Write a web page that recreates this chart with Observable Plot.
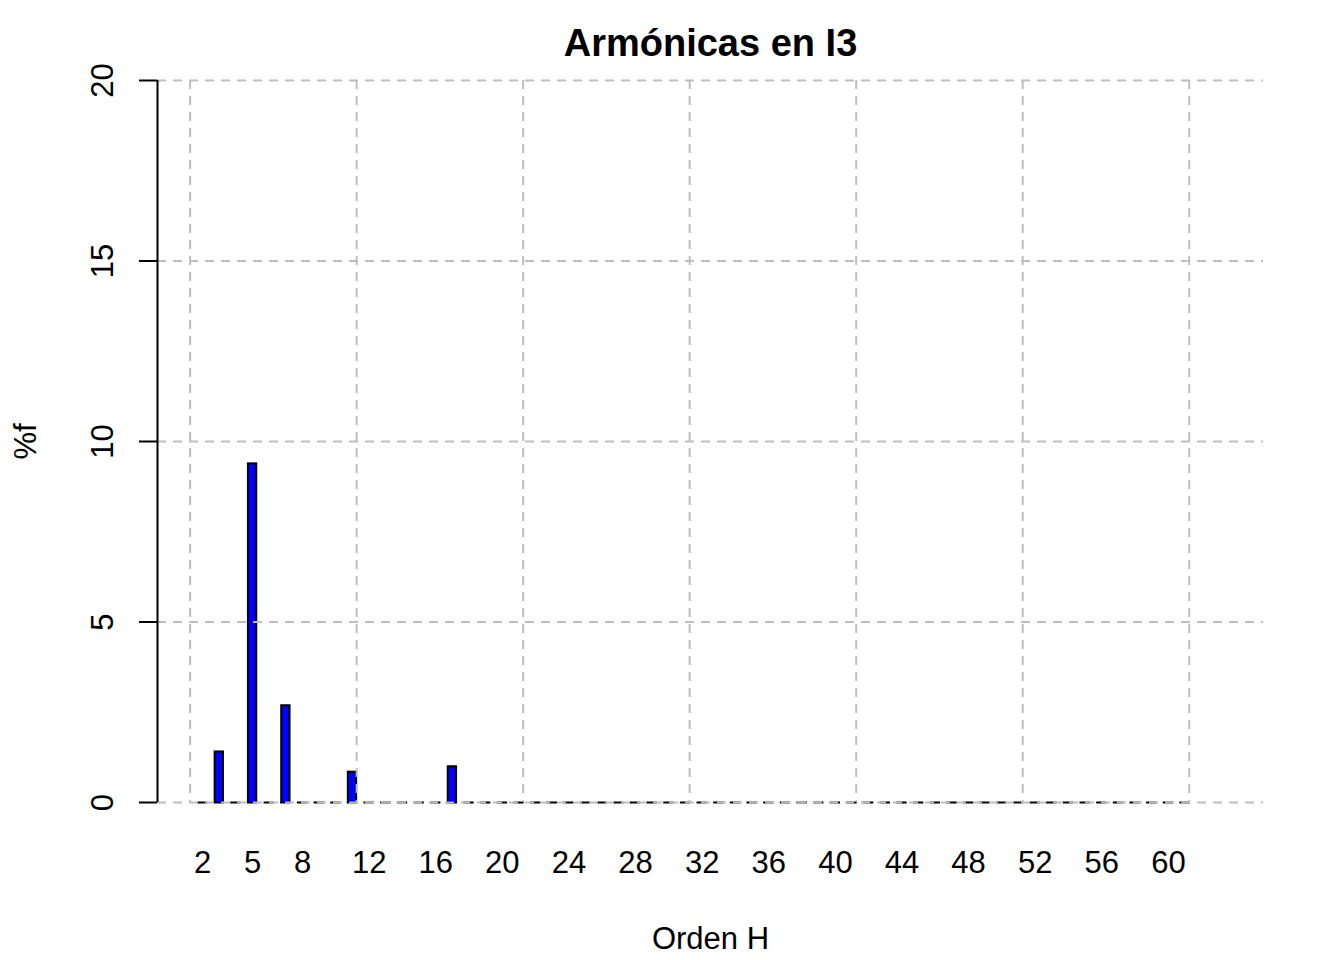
<!DOCTYPE html>
<html><head><meta charset="utf-8">
<script src="https://cdn.jsdelivr.net/npm/d3@7"></script>
<script src="https://cdn.jsdelivr.net/npm/@observablehq/plot@0.6"></script>
<style>body{margin:0;background:#fff} svg{display:block}</style>
</head><body><div id="chart"></div>
<script>
const title = "Armónicas en I3";
const xTitle = "Orden H";
const yTitle = "%f";
const harmonics = [2,3,4,5,6,7,8,9,10,11,12,13,14,15,16,17,18,19,20,21,22,23,24,25,26,27,28,29,30,31,32,33,34,35,36,37,38,39,40,41,42,43,44,45,46,47,48,49,50,51,52,53,54,55,56,57,58,59,60,61,62,63];
const pct = [0,1.40,0,9.38,0,2.68,0,0,0,0.84,0,0,0,0,0,0.99,0,0,0,0,0,0,0,0,0,0,0,0,0,0,0,0,0,0,0,0,0,0,0,0,0,0,0,0,0,0,0,0,0,0,0,0,0,0,0,0,0,0,0,0,null,null];
const xTickLabels = [2,5,8,12,16,20,24,28,32,36,40,44,48,52,56,60];
const yTicks = [0,5,10,15,20];
const xGrid = [0,10,20,30,40,50,60];

// R barplot geometry: width 0.5, space 1
const bw = 0.5, sp = 1;
const center = i => bw*sp + i*bw*(1+sp) + bw/2;
const data = harmonics.map((h,i) => ({h, v: pct[i], c: center(i)}));
const left = center(0) - bw/2, right = center(harmonics.length-1) + bw/2;
const ext = 0.04*(right-left);
const xDomain = [left-ext, right+ext];

const gridStyle = {stroke:"#bebebe", strokeOpacity:1, strokeWidth:2, strokeDasharray:"9,7"};
const fs = 31;

const chart = Plot.plot({
  width:1344, height:960,
  marginTop:80, marginBottom:158, marginLeft:157, marginRight:81,
  x:{domain:xDomain, axis:null},
  y:{domain:[0,20], axis:null},
  style:{fontFamily:"'Liberation Sans', Arial, sans-serif", background:"white", color:"black"},
  marks:[
    Plot.rectY(data.filter(d=>d.v>0), {x1:d=>d.c-bw/2, x2:d=>d.c+bw/2, y:"v", fill:"#0000ff", stroke:"black", strokeWidth:2}),
    Plot.ruleY(data.filter(d=>d.v!=null), {x1:d=>d.c-bw/2-0.06, x2:d=>d.c+bw/2+0.06, y:0, stroke:"black", strokeWidth:2}),
    Plot.gridY(yTicks, gridStyle),
    Plot.gridX(xGrid, gridStyle),
    Plot.ruleX([xDomain[0]], {y1:0, y2:20, stroke:"black", strokeWidth:2}),
    Plot.axisY({ticks:yTicks, tickSize:18, tickFormat:()=>"", label:null, strokeWidth:2}),
    Plot.text(yTicks, {y:d=>d, text:d=>String(d), frameAnchor:"left", rotate:-90, dx:-45, lineAnchor:"bottom", textAnchor:"middle", fontSize:fs}),
    Plot.text(xTickLabels, {x:h=>center(harmonics.indexOf(h)), text:d=>String(d), frameAnchor:"bottom", lineAnchor:"bottom", dy:70, fontSize:fs}),
    Plot.text([title], {text:d=>d, frameAnchor:"top", lineAnchor:"bottom", dy:-25, fontSize:38, fontWeight:"bold"}),
    Plot.text([xTitle], {text:d=>d, frameAnchor:"bottom", lineAnchor:"bottom", dy:146, fontSize:fs}),
    Plot.text([yTitle], {text:d=>d, frameAnchor:"left", rotate:-90, dx:-122, lineAnchor:"bottom", textAnchor:"middle", fontSize:fs})
  ]
});
document.getElementById("chart").appendChild(chart);
</script>
</body></html>
